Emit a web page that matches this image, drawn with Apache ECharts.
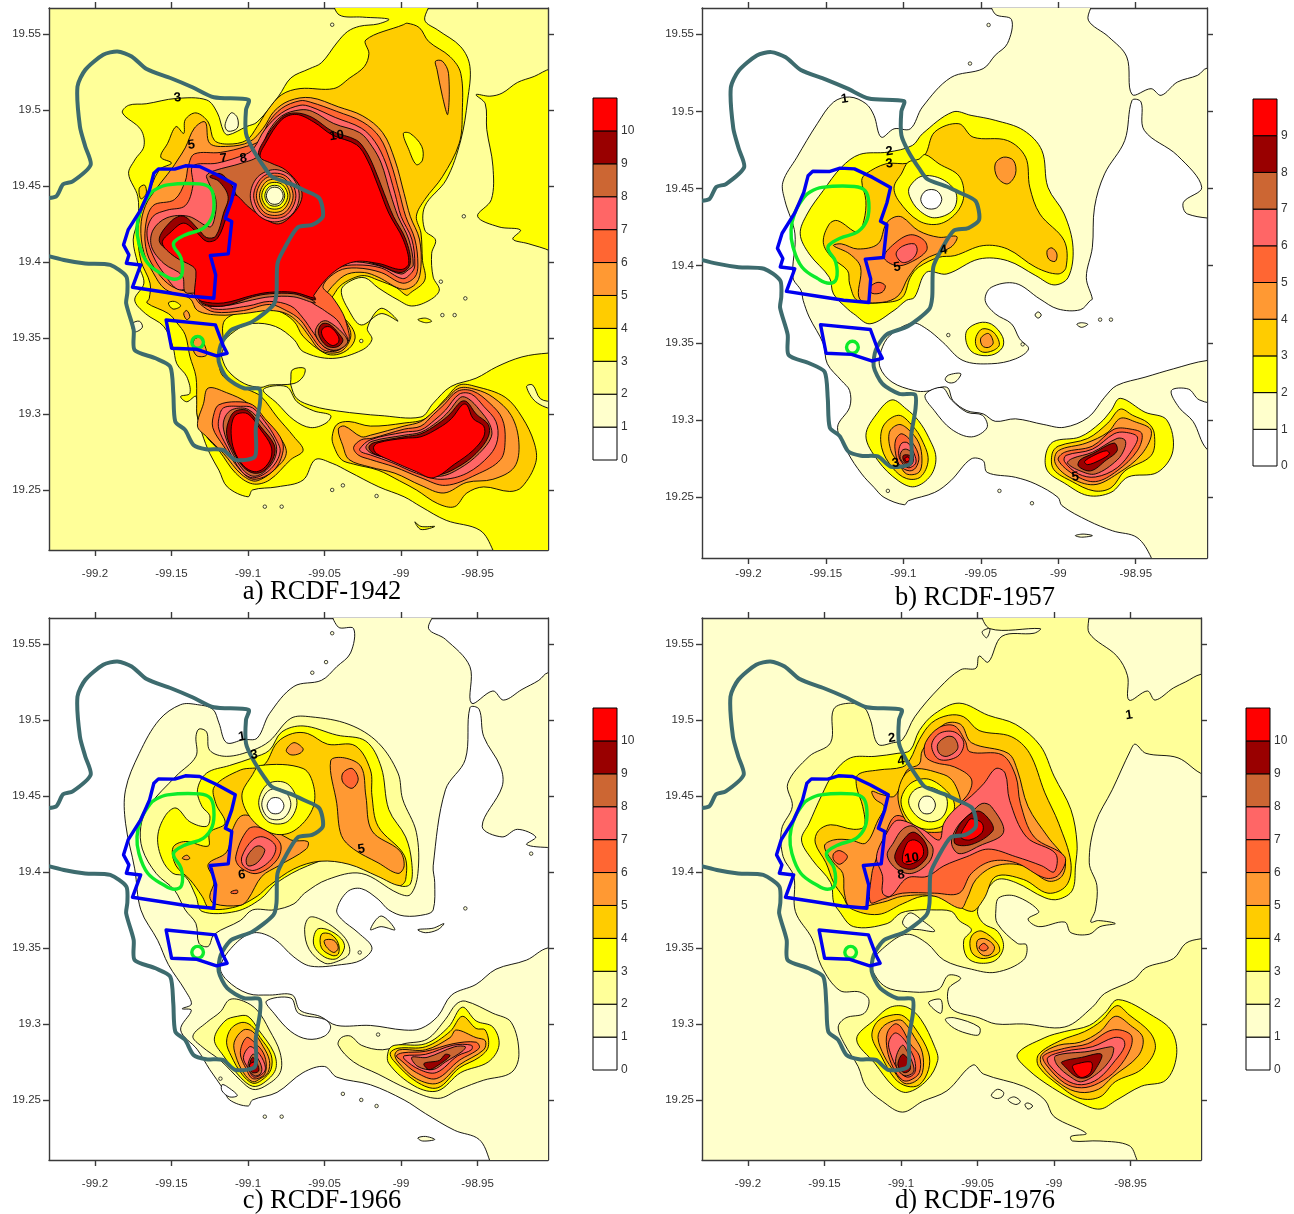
<!DOCTYPE html>
<html><head><meta charset="utf-8">
<style>html,body{margin:0;padding:0;background:#fff}#c{width:1294px;height:1214px}</style>
<script src="https://cdn.jsdelivr.net/npm/echarts@6/dist/echarts.min.js"></script>
</head><body><div id="c"></div>
<script>
// ---- axis ticks and legend values
const lonTicks=[-99.2,-99.15,-99.1,-99.05,-99,-98.95];
const latTicks=[19.25,19.3,19.35,19.4,19.45,19.5,19.55];
const legendTicks11=[0,1,2,3,4,5,6,7,8,9,10];
const legendTicks10=[0,1,2,3,4,5,6,7,8,9];
const bandColors=['#FFFFFF','#FFFFCC','#FFFF99','#FFFF00','#FFCC00','#FF9933','#FF6633','#FF6666','#CC6633','#990000','#FF0000'];
const bandColorsB=['#FFFFFF','#FFFFCC','#FFFF00','#FFCC00','#FF9933','#FF6633','#FF6666','#CC6633','#990000','#FF0000'];
const captions=['a) RCDF-1942','b) RCDF-1957','c) RCDF-1966','d) RCDF-1976'];

// ---- shared geography (lon,lat pairs)
const tealBoundary=[-99.235,19.442,-99.2254,19.443,-99.2208,19.451,-99.2145,19.4529,-99.2028,19.4638,-99.2063,19.4759,-99.2098,19.489,-99.2114,19.5153,-99.2063,19.5263,-99.1946,19.5362,-99.1853,19.5384,-99.176,19.5351,-99.1662,19.5268,-99.1503,19.5208,-99.1363,19.5149,-99.1223,19.5083,-99.0996,19.5066,-99.1013,19.5,-99.1013,19.4846,-99.0966,19.4737,-99.0896,19.4627,-99.0845,19.4561,-99.0721,19.4513,-99.0639,19.4474,-99.0534,19.4419,-99.0511,19.4298,-99.0581,19.4243,-99.0674,19.4228,-99.0756,19.4101,-99.0807,19.3991,-99.0814,19.3794,-99.0834,19.3717,-99.0971,19.3607,-99.1109,19.3553,-99.1178,19.3454,-99.1191,19.3344,-99.1136,19.3235,-99.1026,19.3169,-99.0925,19.3164,-99.0922,19.307,-99.0949,19.2906,-99.0955,19.2719,-99.1081,19.2697,-99.1164,19.2763,-99.1274,19.2768,-99.1356,19.2796,-99.1411,19.2895,-99.1475,19.295,-99.1488,19.3136,-99.1508,19.3311,-99.1604,19.3366,-99.1741,19.3421,-99.1747,19.3553,-99.1796,19.3728,-99.1788,19.38,-99.1795,19.3904,-99.19,19.398,-99.2063,19.399,-99.2203,19.4013,-99.235,19.405];
const blueDistrict=[-99.1585,19.4612,-99.1479,19.461,-99.1409,19.4632,-99.1316,19.4627,-99.1199,19.4572,-99.1083,19.4507,-99.1106,19.4408,-99.1148,19.4287,-99.1106,19.4265,-99.1129,19.4053,-99.1246,19.4042,-99.1211,19.3914,-99.1223,19.3761,-99.1386,19.3776,-99.1573,19.3805,-99.1755,19.3833,-99.1701,19.398,-99.1795,19.3991,-99.1778,19.4046,-99.1813,19.4112,-99.1783,19.421,-99.1701,19.4342,-99.1643,19.4474,-99.1615,19.4583];
const blueSouth=[-99.1535,19.3618,-99.1213,19.3586,-99.1164,19.3454,-99.1136,19.3399,-99.1205,19.3382,-99.1334,19.3425,-99.1499,19.3432];
const greenZone=[-99.1608,19.4474,-99.1526,19.4507,-99.1316,19.4513,-99.1246,19.4485,-99.1223,19.4408,-99.1234,19.4298,-99.1293,19.4221,-99.1409,19.4178,-99.148,19.4134,-99.1484,19.4101,-99.1437,19.4024,-99.1433,19.3914,-99.148,19.3886,-99.155,19.3914,-99.1655,19.3991,-99.1713,19.4123,-99.1725,19.4232,-99.1701,19.4342,-99.1643,19.4441];
const greenSouth=[-99.1329,19.351,-99.1302,19.3498,-99.1291,19.3471,-99.1302,19.3444,-99.1329,19.3433,-99.1356,19.3444,-99.1367,19.3471,-99.1356,19.3498];

// ---- panel a rings
const a3Main=[-99.043,19.572,-99.0405,19.5625,-99.025,19.561,-99.008,19.5596,-99.015,19.5565,-99.027,19.555,-99.035,19.5515,-99.042,19.544,-99.052,19.531,-99.06,19.527,-99.072,19.521,-99.08,19.509,-99.094,19.492,-99.101,19.489,-99.113,19.4835,-99.116,19.486,-99.12,19.498,-99.127,19.5065,-99.147,19.5075,-99.1665,19.504,-99.178,19.503,-99.182,19.498,-99.17,19.487,-99.168,19.476,-99.174,19.467,-99.178,19.458,-99.172,19.443,-99.172,19.4275,-99.175,19.4145,-99.172,19.399,-99.168,19.386,-99.174,19.375,-99.167,19.366,-99.155,19.3575,-99.149,19.344,-99.1465,19.333,-99.14,19.3245,-99.138,19.3135,-99.144,19.3115,-99.14,19.308,-99.134,19.3115,-99.133,19.298,-99.13,19.287,-99.125,19.274,-99.119,19.263,-99.1135,19.252,-99.1,19.2455,-99.097,19.25,-99.081,19.252,-99.064,19.2565,-99.056,19.27,-99.045,19.2675,-99.034,19.262,-99.0145,19.252,-98.998,19.2455,-98.987,19.239,-98.9705,19.23,-98.9485,19.2235,-98.94,19.2105,-98.935,19.195,-98.87,19.19,-98.87,19.342,-98.904,19.34,-98.921,19.3375,-98.9375,19.331,-98.951,19.3235,-98.9675,19.318,-98.979,19.307,-98.987,19.298,-99.0145,19.299,-99.0255,19.3,-99.042,19.302,-99.057,19.305,-99.068,19.31,-99.072,19.319,-99.072,19.3225,-99.071,19.329,-99.063,19.33,-99.064,19.3245,-99.07,19.32,-99.086,19.319,-99.0915,19.3175,-99.1025,19.32,-99.1135,19.329,-99.118,19.34,-99.119,19.344,-99.108,19.355,-99.097,19.3595,-99.082,19.3575,-99.07,19.349,-99.064,19.341,-99.045,19.3365,-99.0255,19.342,-99.019,19.349,-99.022,19.3565,-99.013,19.3695,-99.002,19.361,-99.013,19.366,-99.026,19.3585,-99.034,19.368,-99.039,19.3815,-99.032,19.388,-99.0235,19.3895,-99.015,19.383,-99.002,19.375,-98.993,19.371,-98.981,19.375,-98.975,19.3815,-98.979,19.39,-98.98,19.4055,-98.9775,19.4145,-98.9845,19.421,-98.9845,19.4365,-98.9705,19.454,-98.961,19.48,-98.9565,19.5065,-98.955,19.5285,-98.961,19.5415,-98.976,19.5525,-98.9845,19.559,-98.982,19.572];
const a3East=[-98.951,19.51,-98.942,19.509,-98.934,19.511,-98.924,19.518,-98.913,19.522,-98.902,19.527,-98.87,19.53,-98.87,19.39,-98.902,19.407,-98.917,19.412,-98.927,19.415,-98.922,19.421,-98.936,19.423,-98.95,19.43,-98.941,19.441,-98.94,19.463,-98.944,19.487,-98.945,19.504];
const aLagoon=[-99.046,19.299,-99.049,19.294,-99.059,19.291,-99.07,19.296,-99.081,19.307,-99.09,19.316,-99.075,19.318,-99.068,19.308,-99.057,19.302];
const aBump=[-99.115,19.49,-99.111,19.498,-99.107,19.495,-99.107,19.488,-99.113,19.486];
const aIslandPale=[-99.176,19.359,-99.171,19.361,-99.169,19.357,-99.174,19.354];
const aSEPale=[-98.918,19.318,-98.914,19.319,-98.909,19.31,-98.9,19.307,-98.9,19.303,-98.912,19.308];
const aIslandY1=[-98.991,19.229,-98.987,19.226,-98.978,19.226,-98.987,19.224];
const aIslandY2=[-98.989,19.362,-98.984,19.363,-98.98,19.361,-98.984,19.36];
const a4Main=[-98.996,19.557,-98.988,19.554,-98.982,19.545,-98.968,19.535,-98.961,19.524,-98.96,19.498,-98.962,19.478,-98.973,19.456,-98.9845,19.441,-98.99,19.43,-98.987,19.419,-98.986,19.401,-98.9845,19.388,-98.994,19.3795,-98.9965,19.378,-99.003,19.383,-99.015,19.388,-99.024,19.391,-99.032,19.389,-99.04,19.384,-99.046,19.376,-99.049,19.377,-99.042,19.368,-99.0325,19.3575,-99.03,19.35,-99.034,19.343,-99.042,19.339,-99.05,19.34,-99.064,19.351,-99.07,19.361,-99.081,19.368,-99.092,19.368,-99.108,19.366,-99.116,19.36,-99.116,19.343,-99.119,19.3355,-99.116,19.3245,-99.1,19.316,-99.0915,19.3115,-99.081,19.298,-99.07,19.285,-99.064,19.276,-99.072,19.27,-99.086,19.2565,-99.097,19.254,-99.108,19.261,-99.119,19.276,-99.127,19.285,-99.133,19.298,-99.1335,19.309,-99.134,19.3245,-99.138,19.338,-99.141,19.352,-99.1465,19.36,-99.152,19.366,-99.166,19.373,-99.1645,19.376,-99.164,19.386,-99.17,19.401,-99.172,19.419,-99.17,19.432,-99.1665,19.441,-99.158,19.4605,-99.15,19.465,-99.157,19.469,-99.1525,19.478,-99.147,19.489,-99.142,19.4845,-99.141,19.4935,-99.134,19.498,-99.126,19.492,-99.122,19.48,-99.113,19.4775,-99.101,19.48,-99.094,19.489,-99.087,19.5,-99.078,19.51,-99.066,19.514,-99.044,19.514,-99.0335,19.521,-99.024,19.5285,-99.021,19.537,-99.023,19.546,-98.9985,19.556];
const a4SE=[-99.045,19.285,-99.042,19.293,-99.034,19.295,-99.02,19.292,-98.998,19.294,-98.984,19.297,-98.971,19.31,-98.962,19.319,-98.951,19.318,-98.932,19.311,-98.921,19.298,-98.913,19.281,-98.912,19.268,-98.921,19.252,-98.929,19.249,-98.946,19.252,-98.957,19.248,-98.965,19.239,-98.976,19.241,-98.99,19.25,-99.001,19.256,-99.015,19.263,-99.031,19.267,-99.039,19.27,-99.044,19.279];
const a4Isle=[-99.17,19.4415,-99.171,19.4485,-99.1675,19.4505,-99.1665,19.445];
const aYellowIsle=[-98.9985,19.4845,-98.994,19.4845,-98.9865,19.476,-98.986,19.467,-98.99,19.464,-98.995,19.474];
const aYellowDiamond=[-99.152,19.373,-99.148,19.374,-99.144,19.371,-99.149,19.369];
const a5Sliver=[-98.9775,19.532,-98.973,19.532,-98.969,19.524,-98.9695,19.497,-98.973,19.509,-98.9765,19.5265];
const a5Patch=[-99.135,19.349,-99.131,19.35,-99.127,19.339,-99.133,19.338,-99.136,19.343];
const a5Diamond=[-99.142,19.366,-99.14,19.368,-99.138,19.364,-99.14,19.362];
const a5Main=[-99.128,19.492,-99.125,19.478,-99.113,19.476,-99.099,19.479,-99.09,19.488,-99.083,19.499,-99.073,19.506,-99.059,19.508,-99.041,19.502,-99.025,19.496,-99.012,19.485,-99.004,19.467,-98.998,19.445,-98.994,19.43,-98.988,19.415,-98.987,19.397,-98.99,19.386,-98.999,19.382,-99.015,19.39,-99.024,19.393,-99.035,19.392,-99.043,19.386,-99.05,19.377,-99.048,19.377,-99.041,19.368,-99.034,19.357,-99.033,19.35,-99.038,19.342,-99.045,19.34,-99.053,19.342,-99.06,19.351,-99.067,19.36,-99.075,19.366,-99.086,19.368,-99.103,19.366,-99.119,19.365,-99.133,19.368,-99.138,19.376,-99.154,19.382,-99.162,19.393,-99.168,19.406,-99.17,19.423,-99.167,19.437,-99.16,19.448,-99.15,19.461,-99.146,19.467,-99.141,19.475,-99.135,19.488];
const a5SW=[-99.126,19.317,-99.114,19.314,-99.1,19.307,-99.09,19.296,-99.081,19.287,-99.075,19.276,-99.078,19.268,-99.094,19.256,-99.104,19.26,-99.116,19.274,-99.127,19.285,-99.133,19.292,-99.129,19.307];
const a5SE=[-99.041,19.29,-99.037,19.292,-99.026,19.285,-99.02,19.286,-98.998,19.292,-98.987,19.295,-98.979,19.3015,-98.971,19.309,-98.962,19.317,-98.951,19.316,-98.94,19.311,-98.928,19.299,-98.923,19.281,-98.926,19.265,-98.94,19.257,-98.957,19.255,-98.972,19.248,-98.987,19.253,-99.004,19.261,-99.02,19.265,-99.034,19.27,-99.038,19.279];
const a6Main=[-99.135,19.471,-99.118,19.472,-99.101,19.476,-99.092,19.48,-99.087,19.491,-99.078,19.501,-99.066,19.506,-99.059,19.505,-99.042,19.499,-99.025,19.492,-99.014,19.482,-99.007,19.466,-99.001,19.445,-98.997,19.43,-98.991,19.415,-98.989,19.398,-98.991,19.39,-98.999,19.386,-99.013,19.393,-99.029,19.396,-99.041,19.394,-99.051,19.384,-99.045,19.377,-99.038,19.366,-99.035,19.357,-99.034,19.349,-99.039,19.343,-99.045,19.341,-99.052,19.343,-99.059,19.352,-99.066,19.362,-99.075,19.368,-99.086,19.372,-99.103,19.368,-99.122,19.367,-99.131,19.372,-99.137,19.379,-99.15,19.384,-99.159,19.393,-99.166,19.406,-99.167,19.423,-99.162,19.437,-99.148,19.441,-99.141,19.453,-99.139,19.463];
const a6SW=[-99.119,19.306,-99.108,19.308,-99.097,19.306,-99.089,19.297,-99.079,19.285,-99.077,19.276,-99.083,19.263,-99.096,19.257,-99.105,19.263,-99.116,19.279,-99.123,19.291,-99.122,19.301];
const a6SE=[-99.031,19.278,-99.026,19.283,-99.019,19.284,-98.998,19.29,-98.987,19.292,-98.979,19.2995,-98.972,19.306,-98.963,19.315,-98.953,19.315,-98.942,19.307,-98.934,19.297,-98.932,19.283,-98.935,19.27,-98.951,19.26,-98.971,19.253,-98.987,19.258,-99.004,19.265,-99.02,19.27,-99.028,19.273];
const a7Main=[-99.136,19.463,-99.12,19.465,-99.101,19.471,-99.096,19.475,-99.089,19.487,-99.078,19.498,-99.066,19.503,-99.059,19.502,-99.043,19.495,-99.026,19.488,-99.017,19.479,-99.01,19.465,-99.004,19.445,-99,19.43,-98.993,19.415,-98.991,19.398,-98.993,19.393,-98.999,19.389,-99.013,19.396,-99.029,19.398,-99.041,19.396,-99.052,19.386,-99.06,19.376,-99.05,19.368,-99.042,19.362,-99.037,19.354,-99.035,19.348,-99.042,19.342,-99.05,19.344,-99.057,19.353,-99.064,19.363,-99.072,19.371,-99.086,19.374,-99.1,19.371,-99.122,19.369,-99.13,19.375,-99.135,19.382,-99.146,19.382,-99.154,19.391,-99.162,19.404,-99.166,19.419,-99.162,19.43,-99.153,19.434,-99.141,19.437,-99.136,19.45];
const a7SW=[-99.116,19.304,-99.105,19.305,-99.097,19.304,-99.089,19.295,-99.082,19.284,-99.079,19.275,-99.085,19.264,-99.096,19.258,-99.104,19.262,-99.114,19.279,-99.119,19.29,-99.119,19.297];
const a7SE=[-99.027,19.277,-99.02,19.283,-98.998,19.288,-98.987,19.2895,-98.978,19.296,-98.971,19.3025,-98.962,19.313,-98.954,19.313,-98.946,19.305,-98.938,19.295,-98.937,19.283,-98.942,19.273,-98.957,19.261,-98.974,19.257,-98.99,19.261,-99.006,19.268,-99.02,19.273,-99.026,19.275];
const a8Main=[-99.122,19.46,-99.104,19.465,-99.093,19.47,-99.087,19.485,-99.078,19.496,-99.066,19.5,-99.058,19.499,-99.044,19.491,-99.027,19.485,-99.019,19.476,-99.013,19.465,-99.007,19.445,-99.002,19.43,-98.995,19.415,-98.992,19.398,-98.995,19.395,-99,19.392,-99.013,19.397,-99.029,19.4,-99.042,19.398,-99.054,19.387,-99.062,19.379,-99.056,19.373,-99.07,19.377,-99.086,19.377,-99.097,19.375,-99.116,19.371,-99.13,19.372,-99.134,19.379,-99.141,19.38,-99.143,19.391,-99.155,19.399,-99.163,19.41,-99.162,19.421,-99.153,19.429,-99.139,19.43,-99.125,19.423,-99.122,19.428,-99.121,19.441,-99.126,19.453,-99.127,19.457];
const a8Lobe=[-99.053,19.36,-99.048,19.361,-99.038,19.353,-99.035,19.347,-99.042,19.342,-99.05,19.344,-99.056,19.353];
const a8SW=[-99.11,19.303,-99.1,19.303,-99.09,19.293,-99.082,19.281,-99.082,19.272,-99.088,19.263,-99.096,19.259,-99.103,19.263,-99.111,19.276,-99.116,19.29,-99.115,19.298];
const a8SE=[-99.023,19.278,-99.019,19.282,-98.998,19.286,-98.987,19.288,-98.976,19.295,-98.969,19.3015,-98.961,19.311,-98.956,19.31,-98.949,19.303,-98.942,19.293,-98.941,19.285,-98.949,19.274,-98.962,19.264,-98.975,19.259,-98.99,19.263,-99.006,19.27,-99.019,19.274];
const a9Main=[-99.125,19.456,-99.118,19.458,-99.111,19.451,-99.107,19.443,-99.1,19.435,-99.09,19.427,-99.08,19.423,-99.07,19.43,-99.064,19.441,-99.065,19.451,-99.075,19.462,-99.085,19.467,-99.093,19.47,-99.09,19.479,-99.078,19.495,-99.069,19.498,-99.058,19.495,-99.045,19.486,-99.029,19.48,-99.023,19.473,-99.018,19.463,-99.011,19.445,-99.005,19.43,-98.997,19.415,-98.994,19.399,-99,19.393,-99.015,19.398,-99.032,19.402,-99.047,19.395,-99.058,19.38,-99.056,19.375,-99.07,19.379,-99.086,19.379,-99.097,19.377,-99.116,19.371,-99.13,19.373,-99.131,19.38,-99.131,19.393,-99.135,19.398,-99.148,19.405,-99.158,19.414,-99.15,19.427,-99.142,19.43,-99.132,19.421,-99.127,19.416,-99.121,19.417,-99.116,19.432,-99.113,19.443,-99.119,19.453];
const a9Lobe=[-99.052,19.359,-99.047,19.359,-99.04,19.352,-99.038,19.348,-99.042,19.344,-99.049,19.345,-99.054,19.353];
const a9SW=[-99.108,19.302,-99.1,19.302,-99.092,19.292,-99.083,19.28,-99.083,19.272,-99.089,19.263,-99.096,19.261,-99.103,19.265,-99.11,19.276,-99.114,19.287,-99.112,19.297];
const a9SE=[-99.021,19.278,-99.018,19.281,-98.998,19.285,-98.987,19.287,-98.976,19.2935,-98.968,19.3,-98.961,19.308,-98.957,19.308,-98.951,19.3,-98.943,19.293,-98.943,19.285,-98.951,19.274,-98.963,19.265,-98.976,19.26,-98.99,19.264,-99.006,19.27,-99.018,19.274];
const a10Main=[-99.078,19.4935,-99.0685,19.497,-99.057,19.492,-99.045,19.4835,-99.029,19.477,-99.022,19.467,-99.015,19.45,-99.008,19.432,-98.9985,19.4145,-98.995,19.399,-99,19.395,-99.015,19.399,-99.031,19.4,-99.045,19.3925,-99.057,19.378,-99.056,19.376,-99.07,19.38,-99.086,19.38,-99.097,19.378,-99.116,19.373,-99.13,19.374,-99.134,19.377,-99.135,19.379,-99.134,19.3935,-99.136,19.397,-99.148,19.4035,-99.156,19.4125,-99.15,19.42,-99.142,19.4255,-99.134,19.42,-99.127,19.4135,-99.12,19.4155,-99.114,19.43,-99.1105,19.441,-99.108,19.444,-99.1,19.4365,-99.09,19.429,-99.08,19.425,-99.071,19.431,-99.065,19.441,-99.066,19.4495,-99.0755,19.4605,-99.085,19.465,-99.092,19.469,-99.0885,19.478];
const a10Lobe=[-99.05,19.357,-99.046,19.357,-99.041,19.351,-99.041,19.347,-99.045,19.345,-99.05,19.349,-99.052,19.354];
const a10SW=[-99.107,19.3,-99.1,19.3,-99.092,19.29,-99.085,19.279,-99.085,19.271,-99.09,19.264,-99.096,19.262,-99.103,19.266,-99.109,19.276,-99.111,19.287,-99.11,19.296];
const a10SE=[-99.018,19.278,-99.015,19.281,-98.998,19.284,-98.987,19.285,-98.975,19.291,-98.967,19.297,-98.96,19.306,-98.957,19.306,-98.953,19.297,-98.946,19.292,-98.946,19.285,-98.953,19.276,-98.965,19.267,-98.979,19.258,-98.99,19.262,-99.006,19.269,-99.016,19.274];
const aHole7=[-99.0825,19.4607,-99.0712,19.4557,-99.0665,19.4435,-99.0712,19.4313,-99.0825,19.4263,-99.0938,19.4313,-99.0985,19.4435,-99.0938,19.4557];
const aHole6=[-99.0687,19.4435,-99.0756,19.4567,-99.0894,19.4567,-99.0963,19.4435,-99.0894,19.4303,-99.0756,19.4303];
const aHole5=[-99.0705,19.4435,-99.0765,19.455,-99.0885,19.455,-99.0945,19.4435,-99.0885,19.432,-99.0765,19.432];
const aHole4=[-99.0725,19.4435,-99.0775,19.4532,-99.0875,19.4532,-99.0925,19.4435,-99.0875,19.4338,-99.0775,19.4338];
const aHole3=[-99.074,19.4435,-99.0783,19.4513,-99.0868,19.4513,-99.091,19.4435,-99.0868,19.4357,-99.0783,19.4357];
const aHole2=[-99.076,19.4435,-99.0793,19.4496,-99.0858,19.4496,-99.089,19.4435,-99.0858,19.4374,-99.0793,19.4374];
const aHole1=[-99.077,19.4435,-99.0798,19.4485,-99.0853,19.4485,-99.088,19.4435,-99.0853,19.4385,-99.0798,19.4385];
const aSpecks=[[-99.045,19.556],[-98.959,19.43],[-98.974,19.387],[-98.958,19.376],[-98.973,19.365],[-98.965,19.365],[-99.026,19.348],[-99.038,19.253],[-99.016,19.246],[-99.089,19.239],[-99.078,19.239],[-99.045,19.25]];
const aLabels=[[-99.146,19.508,'3'],[-99.137,19.477,'5'],[-99.116,19.468,'7'],[-99.103,19.468,'8'],[-99.042,19.483,'10']];

// ---- panel b rings
const b1Main=[-99.0427,19.572,-99.0407,19.563,-99.0302,19.5595,-99.0328,19.544,-99.0407,19.5364,-99.0485,19.5277,-99.0694,19.5219,-99.0877,19.5028,-99.0955,19.4887,-99.106,19.4887,-99.1143,19.4833,-99.119,19.4974,-99.1242,19.505,-99.1347,19.5093,-99.1451,19.506,-99.1556,19.492,-99.1687,19.4703,-99.1778,19.4541,-99.1765,19.4422,-99.17,19.4206,-99.1713,19.3924,-99.166,19.3838,-99.1647,19.3775,-99.1608,19.3667,-99.1517,19.3494,-99.1491,19.3364,-99.14,19.3255,-99.1347,19.319,-99.1347,19.3082,-99.1425,19.2952,-99.136,19.279,-99.1269,19.265,-99.119,19.2563,-99.1125,19.2498,-99.0994,19.245,-99.0968,19.2476,-99.0798,19.253,-99.0694,19.2606,-99.0563,19.2747,-99.0485,19.2736,-99.0459,19.266,-99.0276,19.2628,-99.0145,19.2584,-99.0002,19.2498,-98.9976,19.2444,-98.9806,19.2346,-98.9649,19.2281,-98.9492,19.2238,-98.94,19.2108,-98.935,19.195,-98.87,19.19,-98.87,19.34,-98.904,19.3385,-98.9257,19.3331,-98.944,19.3277,-98.9623,19.3223,-98.9701,19.3147,-98.9806,19.3017,-98.9962,19.2952,-99.0093,19.297,-99.0276,19.3007,-99.0407,19.2991,-99.0485,19.3039,-99.059,19.306,-99.068,19.3126,-99.072,19.3212,-99.085,19.3186,-99.0929,19.319,-99.1073,19.3245,-99.1151,19.3342,-99.1143,19.345,-99.1086,19.3548,-99.0942,19.3628,-99.0851,19.3591,-99.0746,19.3504,-99.0615,19.3385,-99.0433,19.3364,-99.0276,19.3396,-99.0192,19.3461,-99.025,19.3526,-99.0302,19.3623,-99.0407,19.3688,-99.0472,19.3775,-99.0433,19.3859,-99.0276,19.3885,-99.0119,19.3784,-99.0002,19.3719,-98.9858,19.3714,-98.9792,19.3775,-98.978,19.3784,-98.9819,19.3924,-98.978,19.4119,-98.9766,19.4379,-98.9701,19.4595,-98.9571,19.4811,-98.9524,19.5071,-98.9466,19.5061,-98.9445,19.4877,-98.9231,19.4714,-98.9074,19.4508,-98.9192,19.4411,-98.9166,19.4335,-98.89,19.43,-98.87,19.43,-98.87,19.53,-98.904,19.528,-98.91,19.5234,-98.9231,19.519,-98.9336,19.5104,-98.9401,19.5147,-98.9524,19.511,-98.9558,19.5353,-98.9675,19.5483,-98.9806,19.5591,-98.9792,19.572];
const bLagoon=[-99.086,19.316,-99.075,19.321,-99.069,19.313,-99.059,19.305,-99.049,19.303,-99.046,19.295,-99.056,19.289,-99.069,19.294,-99.08,19.306];
const bWhiteEast=[-98.927,19.319,-98.916,19.32,-98.909,19.313,-98.895,19.31,-98.885,19.31,-98.885,19.27,-98.904,19.281,-98.913,19.299,-98.922,19.308];
const bIsle1=[-99.073,19.326,-99.071,19.329,-99.063,19.33,-99.066,19.325,-99.07,19.324];
const bIsle2=[-98.989,19.225,-98.984,19.226,-98.978,19.225,-98.985,19.224];
const bIsle3=[-99.015,19.368,-99.013,19.37,-99.011,19.368,-99.013,19.366];
const bIsle4=[-98.988,19.362,-98.985,19.363,-98.981,19.362,-98.985,19.36];
const b2Main=[-99.0681,19.4996,-99.0877,19.4855,-99.0942,19.4779,-99.11,19.4736,-99.1282,19.4721,-99.14,19.4638,-99.1517,19.4487,-99.1621,19.4335,-99.1666,19.4206,-99.1608,19.4076,-99.1478,19.3924,-99.1451,19.3816,-99.136,19.3719,-99.1321,19.3688,-99.1216,19.3623,-99.106,19.371,-99.0981,19.3775,-99.0929,19.3794,-99.0851,19.3957,-99.072,19.3946,-99.0511,19.4043,-99.0328,19.4032,-99.0145,19.3935,-99.0028,19.3875,-98.9936,19.3924,-98.9905,19.4119,-98.9962,19.4335,-99.0067,19.4508,-99.0106,19.4747,-99.0224,19.4877,-99.0407,19.4942,-99.0563,19.4974];
const b2SW=[-99.1073,19.313,-99.1164,19.305,-99.1242,19.2898,-99.1164,19.2736,-99.1033,19.2606,-99.0929,19.2567,-99.0824,19.2639,-99.079,19.2758,-99.0837,19.2887,-99.0903,19.2996,-99.0981,19.3071];
const b2SE=[-98.96,19.314,-98.966,19.306,-98.973,19.298,-98.986,19.289,-99.003,19.286,-99.008,19.278,-99.007,19.267,-98.996,19.259,-98.981,19.251,-98.966,19.253,-98.955,19.263,-98.936,19.266,-98.926,19.28,-98.93,19.3,-98.944,19.305];
const b2Lobe=[-99.059,19.358,-99.051,19.363,-99.043,19.362,-99.036,19.354,-99.036,19.347,-99.043,19.342,-99.054,19.343,-99.059,19.349];
const b3Main=[-99.0642,19.492,-99.0798,19.4866,-99.0864,19.4714,-99.0968,19.4664,-99.1112,19.466,-99.1242,19.4595,-99.1269,19.4552,-99.1242,19.4422,-99.1255,19.4292,-99.1295,19.4216,-99.1425,19.4292,-99.1478,19.427,-99.1517,19.4151,-99.1464,19.4054,-99.136,19.3967,-99.1347,19.3881,-99.1295,19.3773,-99.1112,19.3762,-99.1007,19.3794,-99.0955,19.3924,-99.0903,19.3989,-99.0772,19.4054,-99.0668,19.4065,-99.0485,19.413,-99.0328,19.4108,-99.0145,19.3989,-99.0002,19.3946,-98.995,19.3989,-98.9962,19.4162,-99.0119,19.4335,-99.0184,19.4508,-99.0211,19.4703,-99.0328,19.4811,-99.055,19.4833];
const b3SW=[-99.103,19.303,-99.113,19.296,-99.114,19.282,-99.107,19.269,-99.098,19.262,-99.089,19.263,-99.084,19.274,-99.088,19.287,-99.094,19.296];
const b3SE=[-98.96,19.307,-98.968,19.298,-98.981,19.288,-99,19.283,-99.004,19.278,-99.003,19.268,-98.991,19.26,-98.977,19.254,-98.966,19.256,-98.957,19.267,-98.94,19.277,-98.938,19.291,-98.942,19.298,-98.952,19.303];
const b3Lobe=[-99.053,19.354,-99.049,19.359,-99.042,19.357,-99.038,19.349,-99.042,19.345,-99.049,19.344,-99.053,19.348];
const b4Main=[-99.106,19.4314,-99.1007,19.4314,-99.0903,19.4227,-99.0772,19.4184,-99.0655,19.4188,-99.0694,19.4119,-99.0877,19.4032,-99.0968,19.3924,-99.1033,19.3805,-99.1138,19.3762,-99.1282,19.3784,-99.1276,19.3989,-99.1347,19.4076,-99.1451,19.413,-99.14,19.4141,-99.1295,19.4108,-99.1164,19.4141,-99.1112,19.4271];
const b4Spot1=[-99.0407,19.466,-99.0354,19.4703,-99.0289,19.4681,-99.0276,19.4595,-99.0328,19.453,-99.0394,19.4573];
const b4Spot2=[-99.0072,19.4097,-99.0041,19.4115,-99.0009,19.4076,-99.002,19.4028,-99.0062,19.4043];
const b4SW=[-99.103,19.297,-99.109,19.292,-99.108,19.28,-99.103,19.272,-99.098,19.265,-99.09,19.266,-99.088,19.274,-99.09,19.285,-99.097,19.294];
const b4SE=[-98.96,19.301,-98.968,19.292,-98.982,19.285,-99,19.28,-99.002,19.272,-98.993,19.263,-98.977,19.258,-98.962,19.265,-98.946,19.278,-98.94,19.293,-98.951,19.299];
const b4Lobe=[-99.05,19.353,-99.045,19.356,-99.042,19.35,-99.045,19.347,-99.049,19.348];
const bHoleY=[-99.097,19.467,-99.101,19.46,-99.106,19.451,-99.103,19.442,-99.09,19.429,-99.077,19.427,-99.066,19.434,-99.061,19.445,-99.064,19.458,-99.077,19.466,-99.086,19.472,-99.09,19.469];
const bHoleC=[-99.096,19.451,-99.088,19.458,-99.075,19.456,-99.066,19.447,-99.068,19.436,-99.08,19.431,-99.09,19.436,-99.096,19.445];
const bHoleW=[-99.0752,19.443,-99.0786,19.4486,-99.0854,19.4486,-99.0888,19.443,-99.0854,19.4374,-99.0786,19.4374];
const b5Main=[-99.1047,19.4,-99.1125,19.4054,-99.106,19.4141,-99.0955,19.42,-99.0864,19.4162,-99.0851,19.4097,-99.0955,19.4021];
const b5Small=[-99.1216,19.3859,-99.1164,19.3892,-99.1117,19.387,-99.1138,19.3827,-99.1203,19.3821];
const b5SW=[-99.101,19.291,-99.105,19.287,-99.105,19.278,-99.102,19.27,-99.096,19.267,-99.092,19.269,-99.09,19.276,-99.094,19.285];
const b5SE=[-98.964,19.294,-98.978,19.283,-98.996,19.279,-99,19.274,-98.989,19.264,-98.976,19.26,-98.962,19.267,-98.949,19.28,-98.946,19.291,-98.953,19.294];
const b6Main=[-99.1047,19.4076,-99.1007,19.4125,-99.0929,19.4141,-99.0911,19.4097,-99.0942,19.4043,-99.1007,19.4021];
const b6SW=[-99.101,19.285,-99.103,19.28,-99.102,19.274,-99.097,19.269,-99.092,19.272,-99.093,19.278,-99.097,19.285];
const b6SE=[-98.964,19.291,-98.978,19.281,-98.995,19.277,-98.996,19.273,-98.987,19.265,-98.976,19.263,-98.962,19.269,-98.952,19.281,-98.949,19.289,-98.957,19.292];
const b7SW=[-99.101,19.28,-99.102,19.275,-99.097,19.27,-99.094,19.272,-99.094,19.278,-99.098,19.281];
const b7SE=[-98.962,19.288,-98.978,19.279,-98.991,19.275,-98.994,19.272,-98.986,19.267,-98.976,19.265,-98.962,19.274,-98.957,19.282,-98.957,19.287];
const b8SW=[-99.1,19.277,-99.1,19.274,-99.097,19.271,-99.094,19.274,-99.096,19.277];
const b8SE=[-98.964,19.285,-98.978,19.278,-98.986,19.274,-98.987,19.27,-98.979,19.267,-98.969,19.274,-98.962,19.28];
const b9SW=[-99.099,19.275,-99.098,19.273,-99.096,19.274,-99.097,19.276];
const b9SE=[-98.969,19.28,-98.977,19.277,-98.983,19.273,-98.981,19.271,-98.973,19.274,-98.967,19.278];
const bSpecks=[[-99.045,19.556],[-99.057,19.531],[-98.973,19.365],[-98.966,19.365],[-99.071,19.355],[-99.11,19.254],[-99.038,19.254],[-99.017,19.246],[-99.023,19.349]];
const bLabels=[[-99.138,19.508,'1'],[-99.109,19.474,'2'],[-99.109,19.466,'3'],[-99.104,19.399,'5'],[-99.074,19.41,'4'],[-98.989,19.263,'5'],[-99.105,19.272,'3']];

// ---- panel c rings
const c1Main=[-99.044,19.572,-99.041,19.561,-99.031,19.56,-99.033,19.544,-99.042,19.535,-99.052,19.526,-99.07,19.522,-99.086,19.504,-99.094,19.488,-99.103,19.487,-99.114,19.485,-99.119,19.498,-99.123,19.507,-99.133,19.51,-99.144,19.51,-99.158,19.5,-99.171,19.478,-99.18,19.454,-99.18,19.432,-99.174,19.402,-99.17,19.375,-99.159,19.355,-99.152,19.339,-99.141,19.322,-99.137,19.313,-99.143,19.31,-99.137,19.309,-99.144,19.296,-99.133,19.283,-99.125,19.27,-99.116,19.257,-99.112,19.25,-99.1,19.246,-99.097,19.25,-99.081,19.255,-99.064,19.268,-99.05,19.272,-99.042,19.265,-99.02,19.26,-98.998,19.25,-98.984,19.241,-98.965,19.23,-98.949,19.224,-98.942,19.21,-98.938,19.195,-98.87,19.19,-98.87,19.352,-98.904,19.35,-98.918,19.342,-98.938,19.336,-98.951,19.326,-98.967,19.319,-98.976,19.305,-98.987,19.297,-98.998,19.296,-99.02,19.299,-99.042,19.299,-99.053,19.305,-99.066,19.309,-99.071,19.319,-99.086,19.319,-99.1,19.32,-99.114,19.329,-99.118,19.338,-99.108,19.353,-99.096,19.36,-99.083,19.356,-99.07,19.344,-99.059,19.338,-99.039,19.339,-99.026,19.342,-99.019,19.35,-99.028,19.36,-99.039,19.369,-99.042,19.375,-99.035,19.387,-99.026,19.389,-99.015,19.382,-99.008,19.375,-98.998,19.371,-98.984,19.372,-98.979,19.375,-98.978,19.393,-98.979,19.404,-98.971,19.454,-98.958,19.474,-98.955,19.508,-98.949,19.507,-98.946,19.489,-98.935,19.469,-98.934,19.456,-98.947,19.43,-98.934,19.423,-98.924,19.428,-98.912,19.423,-98.918,19.418,-98.902,19.416,-98.87,19.416,-98.87,19.535,-98.904,19.531,-98.91,19.526,-98.921,19.52,-98.933,19.513,-98.94,19.519,-98.954,19.511,-98.955,19.535,-98.971,19.553,-98.982,19.56,-98.979,19.572];
const cLagoon=[-99.088,19.315,-99.072,19.317,-99.067,19.307,-99.05,19.303,-99.046,19.298,-99.05,19.292,-99.061,19.29,-99.072,19.295,-99.083,19.307];
const cWhiteSmall=[-99.117,19.26,-99.114,19.259,-99.107,19.253,-99.112,19.252,-99.117,19.256];
const cIsle1=[-99.02,19.362,-99.013,19.371,-99.004,19.362,-99.013,19.364];
const cIsle2=[-98.989,19.362,-98.979,19.363,-98.972,19.366,-98.976,19.362,-98.984,19.36];
const cIsle3=[-98.989,19.225,-98.984,19.226,-98.978,19.224,-98.986,19.223];
const c2Main=[-99.132,19.494,-99.127,19.492,-99.125,19.48,-99.114,19.476,-99.097,19.48,-99.086,19.486,-99.072,19.501,-99.059,19.502,-99.034,19.497,-99.015,19.485,-99.002,19.465,-98.999,19.448,-98.99,19.426,-98.989,19.399,-98.994,19.385,-99.002,19.386,-99.026,19.399,-99.048,19.395,-99.063,19.386,-99.07,19.379,-99.083,19.375,-99.097,19.375,-99.105,19.368,-99.122,19.359,-99.126,19.351,-99.132,19.353,-99.134,19.366,-99.141,19.375,-99.148,19.388,-99.16,19.399,-99.169,19.415,-99.17,19.43,-99.165,19.443,-99.147,19.463,-99.134,19.476,-99.134,19.489];
const c2Lobe=[-99.06,19.37,-99.053,19.369,-99.042,19.362,-99.035,19.354,-99.034,19.346,-99.042,19.341,-99.05,19.34,-99.06,19.349,-99.063,19.362];
const c2SW=[-99.112,19.316,-99.103,19.315,-99.094,19.309,-99.086,19.296,-99.079,19.281,-99.079,19.268,-99.089,19.259,-99.097,19.257,-99.105,19.263,-99.118,19.276,-99.13,19.285,-99.136,19.292,-99.127,19.301,-99.118,19.308];
const c2SE=[-99.039,19.291,-99.033,19.292,-99.026,19.286,-99.012,19.283,-98.998,19.287,-98.983,19.29,-98.971,19.303,-98.964,19.313,-98.958,19.315,-98.94,19.307,-98.928,19.301,-98.923,19.28,-98.928,19.268,-98.946,19.263,-98.962,19.257,-98.976,19.251,-98.995,19.257,-99.015,19.267,-99.031,19.275,-99.041,19.286];
const c3Main=[-99.064,19.496,-99.078,19.492,-99.086,19.48,-99.097,19.475,-99.112,19.47,-99.127,19.465,-99.133,19.454,-99.13,19.443,-99.125,19.437,-99.127,19.43,-99.138,19.433,-99.147,19.442,-99.154,19.437,-99.159,19.423,-99.156,19.408,-99.149,19.399,-99.141,19.397,-99.134,19.384,-99.13,19.374,-99.108,19.374,-99.092,19.382,-99.081,19.393,-99.061,19.404,-99.039,19.41,-99.02,19.404,-99.001,19.391,-98.994,19.392,-98.993,19.406,-98.997,19.423,-99.008,19.441,-99.013,19.469,-99.023,19.486,-99.042,19.49];
const c3Lobe=[-99.055,19.362,-99.048,19.362,-99.039,19.356,-99.037,19.35,-99.042,19.343,-99.05,19.344,-99.057,19.352];
const c3SW=[-99.107,19.305,-99.1,19.305,-99.093,19.296,-99.083,19.281,-99.082,19.27,-99.09,19.261,-99.097,19.259,-99.105,19.265,-99.116,19.279,-99.122,19.29,-99.115,19.302];
const c3SE=[-99.004,19.286,-98.984,19.287,-98.969,19.298,-98.96,19.311,-98.951,19.302,-98.94,19.298,-98.936,19.286,-98.943,19.275,-98.961,19.268,-98.976,19.256,-98.991,19.259,-99.008,19.274,-99.008,19.283];
const c4Main=[-99.071,19.491,-99.081,19.485,-99.09,19.47,-99.105,19.467,-99.122,19.456,-99.121,19.445,-99.115,19.432,-99.125,19.426,-99.126,19.417,-99.141,19.42,-99.149,19.416,-99.147,19.404,-99.138,19.395,-99.13,19.384,-99.125,19.376,-99.108,19.377,-99.094,19.384,-99.086,19.391,-99.07,19.402,-99.053,19.407,-99.034,19.405,-99.015,19.397,-99.001,19.391,-98.997,19.395,-98.998,19.411,-99.015,19.43,-99.019,19.45,-99.02,19.467,-99.03,19.483,-99.048,19.484,-99.061,19.491];
const c4Lobe=[-99.052,19.359,-99.046,19.359,-99.041,19.353,-99.041,19.346,-99.045,19.345,-99.052,19.35];
const c4SW=[-99.104,19.301,-99.098,19.299,-99.092,19.291,-99.085,19.28,-99.085,19.27,-99.091,19.263,-99.097,19.261,-99.104,19.267,-99.111,19.279,-99.114,19.288,-99.111,19.297];
const c4SE=[-99.002,19.284,-98.984,19.285,-98.968,19.295,-98.96,19.305,-98.951,19.297,-98.945,19.296,-98.943,19.285,-98.949,19.278,-98.962,19.271,-98.976,19.258,-98.99,19.262,-99.005,19.276,-99.007,19.281];
const c5Spot=[-99.075,19.48,-99.07,19.485,-99.064,19.481,-99.066,19.478,-99.072,19.477];
const c5East=[-99.046,19.473,-99.037,19.475,-99.026,19.469,-99.023,19.45,-99.019,19.427,-99.001,19.414,-98.998,19.404,-99.002,19.399,-99.015,19.406,-99.031,19.415,-99.039,19.424,-99.042,19.445];
const c5Center=[-99.104,19.437,-99.094,19.435,-99.072,19.421,-99.061,19.42,-99.062,19.415,-99.08,19.404,-99.091,19.397,-99.1,19.382,-99.105,19.378,-99.122,19.379,-99.125,19.384,-99.122,19.394,-99.126,19.405,-99.114,19.413,-99.11,19.428];
const c5Small=[-99.143,19.409,-99.14,19.411,-99.138,19.409,-99.14,19.408];
const c5Lobe=[-99.05,19.355,-99.044,19.355,-99.041,19.35,-99.044,19.347,-99.049,19.351];
const c5SW=[-99.103,19.296,-99.097,19.295,-99.09,19.285,-99.086,19.276,-99.087,19.268,-99.092,19.264,-99.097,19.262,-99.103,19.268,-99.108,19.279,-99.109,19.288];
const c5SE=[-99.001,19.283,-98.984,19.283,-98.968,19.291,-98.964,19.296,-98.951,19.291,-98.945,19.289,-98.946,19.283,-98.962,19.273,-98.976,19.261,-98.99,19.264,-99.002,19.275,-99.004,19.28];
const cHoleY=[-99.092,19.47,-99.064,19.468,-99.057,19.456,-99.058,19.441,-99.07,19.427,-99.083,19.425,-99.097,19.434,-99.104,19.45,-99.097,19.464];
const cHoleP=[-99.068,19.4455,-99.0743,19.458,-99.0868,19.458,-99.093,19.4455,-99.0868,19.433,-99.0743,19.433];
const cHoleC=[-99.072,19.4445,-99.0768,19.4536,-99.0863,19.4536,-99.091,19.4445,-99.0863,19.4354,-99.0768,19.4354];
const cHoleW=[-99.0765,19.4435,-99.0793,19.4483,-99.0848,19.4483,-99.0875,19.4435,-99.0848,19.4388,-99.0793,19.4388];
const c6Main=[-99.1,19.428,-99.092,19.429,-99.079,19.419,-99.081,19.408,-99.094,19.399,-99.105,19.403,-99.108,19.41];
const c6Spot=[-99.038,19.465,-99.032,19.468,-99.028,19.461,-99.032,19.455,-99.038,19.459];
const c6Small=[-99.111,19.387,-99.107,19.388,-99.107,19.386,-99.111,19.386];
const c6SW=[-99.101,19.291,-99.096,19.288,-99.09,19.281,-99.088,19.272,-99.09,19.266,-99.097,19.264,-99.101,19.27,-99.105,19.281];
const c6SE=[-98.999,19.281,-98.984,19.282,-98.966,19.287,-98.951,19.288,-98.949,19.284,-98.962,19.276,-98.977,19.264,-98.99,19.268,-99,19.276,-99.003,19.279];
const c7Main=[-99.097,19.421,-99.09,19.423,-99.082,19.417,-99.085,19.408,-99.096,19.401,-99.103,19.404,-99.104,19.41];
const c7SW=[-99.099,19.285,-99.095,19.283,-99.09,19.276,-99.089,19.269,-99.096,19.265,-99.1,19.271,-99.103,19.278];
const c7SE=[-98.998,19.279,-98.984,19.28,-98.966,19.286,-98.954,19.286,-98.954,19.283,-98.963,19.279,-98.977,19.268,-98.988,19.27,-98.998,19.277];
const c8Main=[-99.096,19.416,-99.092,19.417,-99.089,19.414,-99.094,19.406,-99.1,19.404,-99.101,19.409];
const c8SW=[-99.097,19.28,-99.094,19.278,-99.091,19.271,-99.092,19.267,-99.096,19.266,-99.1,19.272];
const c8SE=[-98.993,19.278,-98.983,19.278,-98.965,19.285,-98.958,19.285,-98.96,19.282,-98.971,19.275,-98.979,19.27,-98.989,19.272];
const c9SW=[-99.097,19.278,-99.094,19.274,-99.093,19.269,-99.097,19.268,-99.099,19.272];
const c9SE=[-98.985,19.274,-98.975,19.276,-98.971,19.28,-98.968,19.279,-98.977,19.272,-98.982,19.27];
const c10SW=[-99.096,19.275,-99.095,19.272,-99.098,19.271,-99.099,19.273];
const cSpecks=[[-99.045,19.557],[-99.049,19.538],[-99.058,19.531],[-98.958,19.376],[-98.915,19.412],[-99.038,19.254],[-99.026,19.25],[-99.016,19.246],[-99.089,19.239],[-99.078,19.239],[-99.118,19.264],[-99.015,19.293],[-99.027,19.347]];
const cLabels=[[-99.104,19.489,'1'],[-99.096,19.477,'3'],[-99.104,19.398,'6'],[-99.026,19.415,'5']];

// ---- panel d rings
const d2Main=[-99.046,19.572,-99.042,19.56,-99.009,19.56,-99.013,19.557,-99.034,19.555,-99.043,19.538,-99.049,19.542,-99.051,19.534,-99.061,19.533,-99.075,19.521,-99.091,19.502,-99.099,19.487,-99.105,19.485,-99.115,19.484,-99.12,19.5,-99.124,19.508,-99.133,19.511,-99.144,19.507,-99.146,19.485,-99.16,19.476,-99.174,19.458,-99.171,19.443,-99.178,19.428,-99.177,19.41,-99.17,19.397,-99.169,19.374,-99.158,19.356,-99.152,19.338,-99.14,19.322,-99.127,19.321,-99.121,19.316,-99.124,19.307,-99.136,19.304,-99.141,19.298,-99.137,19.287,-99.128,19.272,-99.123,19.259,-99.112,19.249,-99.099,19.242,-99.086,19.249,-99.07,19.256,-99.053,19.273,-99.046,19.267,-99.02,19.259,-99.006,19.25,-99,19.239,-98.979,19.228,-98.989,19.226,-98.988,19.223,-98.97,19.223,-98.951,19.22,-98.946,19.211,-98.94,19.195,-98.87,19.19,-98.87,19.36,-98.904,19.356,-98.914,19.353,-98.922,19.343,-98.94,19.337,-98.948,19.329,-98.967,19.32,-98.975,19.311,-98.993,19.298,-99.02,19.3,-99.038,19.3,-99.049,19.304,-99.067,19.31,-99.069,19.323,-99.061,19.33,-99.069,19.332,-99.075,19.323,-99.084,19.321,-99.092,19.321,-99.107,19.323,-99.115,19.329,-99.119,19.34,-99.109,19.352,-99.096,19.359,-99.083,19.353,-99.072,19.342,-99.054,19.336,-99.038,19.334,-99.02,19.342,-99.018,19.352,-99.024,19.353,-99.037,19.366,-99.038,19.375,-99.036,19.383,-99.025,19.384,-99.01,19.374,-99.017,19.369,-99.01,19.364,-98.993,19.367,-98.989,19.36,-98.977,19.359,-98.97,19.364,-98.96,19.366,-98.971,19.368,-98.976,19.367,-98.973,19.375,-98.972,19.391,-98.977,19.406,-98.973,19.432,-98.962,19.454,-98.95,19.48,-98.947,19.484,-98.94,19.478,-98.919,19.475,-98.902,19.464,-98.87,19.46,-98.87,19.535,-98.904,19.53,-98.914,19.525,-98.922,19.521,-98.934,19.513,-98.939,19.519,-98.951,19.513,-98.952,19.529,-98.959,19.542,-98.977,19.557,-98.979,19.572];
const dLagoon=[-99.071,19.303,-99.065,19.304,-99.049,19.298,-99.049,19.293,-99.054,19.293,-99.065,19.297];
const dTriangle=[-99.082,19.314,-99.074,19.316,-99.074,19.307];
const dBayBump=[-99.099,19.367,-99.094,19.373,-99.086,19.368,-99.078,19.361,-99.088,19.362,-99.096,19.363];
const dNorthHole=[-99.047,19.558,-99.042,19.56,-99.044,19.554];
const dIsle1=[-99.041,19.253,-99.037,19.257,-99.033,19.255,-99.034,19.252,-99.038,19.251];
const dIsle2=[-99.03,19.25,-99.026,19.252,-99.022,19.249,-99.025,19.247];
const dIsle3=[-99.019,19.247,-99.017,19.248,-99.014,19.246,-99.017,19.244];
const d3Main=[-99.062,19.511,-99.043,19.503,-99.025,19.497,-99.009,19.483,-99,19.463,-98.989,19.441,-98.985,19.419,-98.986,19.404,-98.988,19.388,-98.997,19.382,-99.006,19.383,-99.025,19.393,-99.037,19.395,-99.045,19.386,-99.05,19.374,-99.046,19.366,-99.037,19.361,-99.033,19.351,-99.038,19.342,-99.049,19.34,-99.057,19.344,-99.059,19.355,-99.054,19.362,-99.062,19.368,-99.067,19.374,-99.08,19.375,-99.088,19.375,-99.1,19.373,-99.109,19.366,-99.131,19.364,-99.141,19.375,-99.144,19.38,-99.146,19.393,-99.158,19.408,-99.165,19.421,-99.16,19.432,-99.152,19.45,-99.144,19.465,-99.133,19.475,-99.117,19.476,-99.102,19.478,-99.094,19.48,-99.088,19.493,-99.078,19.504];
const d3SW=[-99.107,19.311,-99.096,19.311,-99.087,19.303,-99.078,19.285,-99.076,19.276,-99.083,19.263,-99.096,19.255,-99.105,19.259,-99.117,19.274,-99.129,19.29,-99.117,19.303];
const d3SE=[-98.958,19.316,-98.967,19.307,-98.977,19.299,-98.993,19.295,-99.006,19.291,-99.024,19.28,-99.017,19.27,-99.001,19.258,-98.983,19.248,-98.97,19.244,-98.959,19.25,-98.943,19.259,-98.927,19.263,-98.92,19.279,-98.923,19.295,-98.935,19.305];
const d4Main=[-99.069,19.503,-99.08,19.498,-99.088,19.487,-99.094,19.474,-99.099,19.469,-99.115,19.467,-99.128,19.464,-99.129,19.456,-99.125,19.443,-99.124,19.43,-99.131,19.428,-99.146,19.431,-99.154,19.427,-99.156,19.419,-99.149,19.406,-99.144,19.393,-99.138,19.384,-99.133,19.376,-99.115,19.372,-99.099,19.379,-99.086,19.384,-99.072,19.383,-99.054,19.374,-99.046,19.382,-99.038,19.397,-99.02,19.395,-99.004,19.386,-98.992,19.391,-98.989,19.406,-98.997,19.432,-99.006,19.452,-99.016,19.478,-99.028,19.489,-99.049,19.493,-99.059,19.502];
const d4Lobe=[-99.053,19.359,-99.047,19.361,-99.037,19.353,-99.036,19.347,-99.046,19.343,-99.053,19.346,-99.055,19.353];
const d4SW=[-99.105,19.306,-99.098,19.305,-99.09,19.296,-99.082,19.281,-99.082,19.27,-99.088,19.26,-99.096,19.259,-99.104,19.264,-99.113,19.279,-99.119,19.292,-99.115,19.302];
const d4SE=[-98.959,19.312,-98.969,19.302,-98.98,19.295,-98.996,19.289,-99.01,19.28,-99.01,19.272,-98.996,19.259,-98.983,19.251,-98.97,19.252,-98.96,19.262,-98.943,19.27,-98.934,19.283,-98.937,19.294,-98.951,19.306];
const d5Main=[-99.072,19.497,-99.061,19.497,-99.054,19.485,-99.03,19.478,-99.024,19.467,-99.017,19.443,-99.004,19.423,-98.993,19.408,-98.995,19.397,-99.004,19.394,-99.02,19.404,-99.038,19.404,-99.051,19.395,-99.057,19.382,-99.061,19.376,-99.078,19.384,-99.099,19.384,-99.112,19.38,-99.133,19.377,-99.137,19.386,-99.138,19.399,-99.144,19.406,-99.15,19.417,-99.144,19.421,-99.133,19.421,-99.123,19.419,-99.115,19.434,-99.111,19.443,-99.117,19.448,-99.119,19.453,-99.113,19.451,-99.104,19.45,-99.096,19.467,-99.088,19.471,-99.086,19.48];
const d5Lobe=[-99.05,19.355,-99.045,19.356,-99.039,19.351,-99.041,19.346,-99.046,19.345,-99.05,19.349];
const d5SW=[-99.105,19.302,-99.099,19.302,-99.091,19.291,-99.086,19.281,-99.086,19.268,-99.091,19.262,-99.098,19.261,-99.104,19.268,-99.111,19.279,-99.115,19.291,-99.112,19.298];
const d5SE=[-98.96,19.305,-98.97,19.295,-98.983,19.288,-98.997,19.286,-99.008,19.28,-99.008,19.273,-98.995,19.26,-98.983,19.255,-98.971,19.257,-98.962,19.265,-98.945,19.279,-98.942,19.291,-98.95,19.299];
const d6Main=[-99.084,19.485,-99.075,19.495,-99.065,19.496,-99.058,19.486,-99.055,19.479,-99.034,19.477,-99.025,19.463,-99.022,19.445,-99.013,19.423,-98.993,19.41,-98.997,19.398,-99.006,19.396,-99.025,19.406,-99.041,19.407,-99.054,19.399,-99.062,19.386,-99.078,19.386,-99.099,19.386,-99.112,19.382,-99.12,19.38,-99.119,19.399,-99.117,19.406,-99.111,19.423,-99.103,19.437,-99.086,19.43,-99.072,19.437,-99.057,19.45,-99.054,19.461,-99.065,19.469,-99.078,19.472,-99.084,19.476];
const d6Spot=[-99.144,19.412,-99.14,19.414,-99.135,19.41,-99.14,19.405,-99.144,19.408];
const d6Diamond=[-99.046,19.353,-99.043,19.35,-99.046,19.348,-99.049,19.35];
const d6SW=[-99.104,19.3,-99.1,19.298,-99.094,19.287,-99.088,19.279,-99.088,19.268,-99.094,19.263,-99.099,19.263,-99.105,19.271,-99.109,19.283,-99.109,19.294];
const d6SE=[-98.962,19.296,-98.978,19.287,-98.993,19.284,-99.007,19.279,-99.005,19.273,-98.993,19.261,-98.982,19.258,-98.971,19.261,-98.959,19.27,-98.95,19.284,-98.95,19.293];
const dHole4=[-99.102,19.45,-99.094,19.467,-99.072,19.464,-99.065,19.458,-99.061,19.443,-99.067,19.429,-99.08,19.426,-99.094,19.43];
const dHole3=[-99.1,19.446,-99.094,19.458,-99.082,19.461,-99.069,19.452,-99.065,19.443,-99.07,19.432,-99.082,19.428,-99.093,19.432];
const dHole2=[-99.095,19.446,-99.091,19.454,-99.082,19.456,-99.071,19.45,-99.07,19.442,-99.074,19.435,-99.082,19.433,-99.09,19.437];
const dHole1=[-99.0775,19.444,-99.0803,19.4492,-99.0858,19.4492,-99.0885,19.444,-99.0858,19.4388,-99.0803,19.4388];
const d7Main=[-99.038,19.468,-99.032,19.465,-99.029,19.447,-99.018,19.423,-98.999,19.412,-99,19.4,-99.008,19.404,-99.025,19.41,-99.043,19.415,-99.057,19.41,-99.072,19.404,-99.083,19.397,-99.096,19.396,-99.107,19.384,-99.112,19.386,-99.112,19.397,-99.116,19.41,-99.109,19.426,-99.102,19.434,-99.086,19.428,-99.075,19.421,-99.072,19.432,-99.065,19.441,-99.054,19.45,-99.046,19.458];
const d7Lobe=[-99.08,19.483,-99.075,19.491,-99.065,19.492,-99.059,19.485,-99.063,19.476,-99.075,19.474];
const d7SW=[-99.104,19.294,-99.099,19.291,-99.094,19.283,-99.091,19.276,-99.091,19.268,-99.096,19.265,-99.102,19.27,-99.107,19.281,-99.108,19.288];
const d7SE=[-98.961,19.291,-98.975,19.285,-98.993,19.282,-99.004,19.278,-99.003,19.273,-98.992,19.263,-98.982,19.26,-98.971,19.264,-98.96,19.276,-98.954,19.285,-98.955,19.29];
const d8Lobe=[-99.076,19.484,-99.07,19.489,-99.065,19.488,-99.063,19.481,-99.07,19.476,-99.075,19.478];
const d8West=[-99.099,19.428,-99.092,19.43,-99.083,19.421,-99.079,19.415,-99.082,19.406,-99.093,19.399,-99.103,19.402,-99.109,19.411,-99.105,19.419];
const d8East=[-99.047,19.445,-99.041,19.443,-99.033,19.426,-99.049,19.417,-99.062,19.412,-99.067,19.419,-99.063,19.43,-99.054,19.439];
const d8SW=[-99.099,19.286,-99.096,19.282,-99.092,19.273,-99.092,19.268,-99.098,19.266,-99.103,19.272,-99.103,19.279];
const d8SE=[-98.963,19.285,-98.977,19.282,-98.999,19.279,-98.998,19.273,-98.989,19.265,-98.982,19.262,-98.971,19.268,-98.963,19.277,-98.961,19.284];
const d9West=[-99.096,19.424,-99.091,19.426,-99.084,19.419,-99.083,19.41,-99.092,19.402,-99.101,19.404,-99.104,19.411];
const d9East=[-99.05,19.44,-99.042,19.434,-99.04,19.427,-99.054,19.418,-99.065,19.419,-99.061,19.432];
const d9SW=[-99.099,19.28,-99.095,19.276,-99.094,19.27,-99.098,19.268,-99.102,19.273];
const d9SE=[-98.969,19.28,-98.982,19.278,-98.995,19.275,-98.993,19.272,-98.985,19.265,-98.978,19.265,-98.973,19.27];
const d10West=[-99.096,19.419,-99.091,19.421,-99.086,19.417,-99.086,19.41,-99.094,19.405,-99.099,19.407];
const d10East=[-99.054,19.435,-99.047,19.432,-99.047,19.426,-99.055,19.421,-99.061,19.423,-99.057,19.432];
const d10SE=[-98.976,19.275,-98.984,19.274,-98.988,19.272,-98.983,19.265,-98.977,19.267,-98.975,19.272];
const dSpecks=[];
const dLabels=[[-99.106,19.488,'2'],[-99.1,19.473,'4'],[-99.093,19.409,'10'],[-99.1,19.398,'8'],[-98.951,19.503,'1']];

// ---- ordered layers: [band, ring]
const layersA=[[3,a3Main],[3,a3East],[2,aLagoon],[1,aBump],[1,aIslandPale],[2,aSEPale],[3,aIslandY1],[3,aIslandY2],[4,a4Main],[4,a4SE],[4,a4Isle],[3,aYellowIsle],[3,aYellowDiamond],[5,a5Sliver],[5,a5Patch],[5,a5Diamond],[5,a5Main],[5,a5SW],[5,a5SE],[6,a6Main],[6,a6SW],[6,a6SE],[7,a7Main],[7,a7SW],[7,a7SE],[8,a8Main],[8,a8Lobe],[8,a8SW],[8,a8SE],[9,a9Main],[9,a9Lobe],[9,a9SW],[9,a9SE],[10,a10Main],[10,a10Lobe],[10,a10SW],[10,a10SE],[7,aHole7],[6,aHole6],[5,aHole5],[4,aHole4],[3,aHole3],[2,aHole2],[1,aHole1]];
const layersB=[[1,b1Main],[0,bLagoon],[0,bWhiteEast],[1,bIsle1],[1,bIsle2],[1,bIsle3],[1,bIsle4],[2,b2Main],[2,b2SW],[2,b2SE],[2,b2Lobe],[3,b3Main],[3,b3SW],[3,b3SE],[3,b3Lobe],[4,b4Main],[4,b4Spot1],[4,b4Spot2],[4,b4SW],[4,b4SE],[4,b4Lobe],[2,bHoleY],[1,bHoleC],[0,bHoleW],[5,b5Main],[5,b5Small],[5,b5SW],[5,b5SE],[6,b6Main],[6,b6SW],[6,b6SE],[7,b7SW],[7,b7SE],[8,b8SW],[8,b8SE],[9,b9SW],[9,b9SE]];
const layersC=[[1,c1Main],[0,cLagoon],[0,cWhiteSmall],[1,cIsle1],[1,cIsle2],[1,cIsle3],[2,c2Main],[2,c2Lobe],[2,c2SW],[2,c2SE],[3,c3Main],[3,c3Lobe],[3,c3SW],[3,c3SE],[4,c4Main],[4,c4Lobe],[4,c4SW],[4,c4SE],[5,c5Spot],[5,c5East],[5,c5Center],[5,c5Small],[5,c5Lobe],[5,c5SW],[5,c5SE],[3,cHoleY],[2,cHoleP],[1,cHoleC],[0,cHoleW],[6,c6Main],[6,c6Spot],[6,c6Small],[6,c6SW],[6,c6SE],[7,c7Main],[7,c7SW],[7,c7SE],[8,c8Main],[8,c8SW],[8,c8SE],[9,c9SW],[9,c9SE],[10,c10SW]];
const layersD=[[2,d2Main],[1,dLagoon],[1,dTriangle],[1,dBayBump],[1,dNorthHole],[1,dIsle1],[1,dIsle2],[1,dIsle3],[3,d3Main],[3,d3SW],[3,d3SE],[4,d4Main],[4,d4Lobe],[4,d4SW],[4,d4SE],[5,d5Main],[5,d5Lobe],[5,d5SW],[5,d5SE],[6,d6Main],[6,d6Spot],[6,d6Diamond],[6,d6SW],[6,d6SE],[4,dHole4],[3,dHole3],[2,dHole2],[1,dHole1],[7,d7Main],[7,d7Lobe],[7,d7SW],[7,d7SE],[8,d8Lobe],[8,d8West],[8,d8East],[8,d8SW],[8,d8SE],[9,d9West],[9,d9East],[9,d9SW],[9,d9SE],[10,d10West],[10,d10East],[10,d10SE]];

const panels=[
 {box:[49,8,499,542],leg:[593,98,24,362],legTicks:legendTicks11,pal:bandColors,bg:'#FFFF99',layers:layersA,specks:aSpecks,labels:aLabels,cap:[317,574],xm:18},
 {box:[702,8,505,550],leg:[1253,99,24,367],legTicks:legendTicks10,pal:bandColorsB,bg:'#FFFFFF',layers:layersB,specks:bSpecks,labels:bLabels,cap:[970,580],xm:10},
 {box:[49,618,499,542],leg:[593,708,24,362],legTicks:legendTicks11,pal:bandColors,bg:'#FFFFFF',layers:layersC,specks:cSpecks,labels:cLabels,cap:[317,1183],xm:18},
 {box:[702,618,499,542],leg:[1246,708,24,362],legTicks:legendTicks11,pal:bandColors,bg:'#FFFFCC',layers:layersD,specks:dSpecks,labels:dLabels,cap:[970,1183],xm:18}
];

const LON=[-99.23,-98.904], LAT=[19.2105,19.567];
const axisText={fontFamily:'Liberation Sans',fontSize:11.5,color:'#333'};
const axisStroke={color:'#3a3a3a',width:1.4};
function pts(api,ring){const o=[];for(let i=0;i<ring.length;i+=2)o.push(api.coord([ring[i],ring[i+1]]));return o;}

const grid=[],xAxis=[],yAxis=[],series=[],title=[];
panels.forEach((p,k)=>{
  const g=grid.length;
  grid.push({left:p.box[0],top:p.box[1],width:p.box[2],height:p.box[3],show:true,backgroundColor:p.bg,borderWidth:0,containLabel:false});
  const xi=xAxis.length, yi=yAxis.length;
  xAxis.push({type:'value',gridIndex:g,position:'bottom',min:LON[0],max:LON[1],splitLine:{show:false},axisLine:{onZero:false,lineStyle:axisStroke},
    axisTick:{show:true,length:6,lineStyle:axisStroke,customValues:lonTicks},axisLabel:{...axisText,margin:p.xm,customValues:lonTicks,formatter:v=>String(v)}});
  xAxis.push({type:'value',gridIndex:g,position:'top',min:LON[0],max:LON[1],splitLine:{show:false},axisLine:{onZero:false,lineStyle:axisStroke},
    axisTick:{show:true,length:6,lineStyle:axisStroke,customValues:lonTicks},axisLabel:{show:false}});
  yAxis.push({type:'value',gridIndex:g,position:'left',min:LAT[0],max:LAT[1],splitLine:{show:false},axisLine:{onZero:false,lineStyle:axisStroke},
    axisTick:{show:true,length:6,lineStyle:axisStroke,customValues:latTicks},axisLabel:{...axisText,margin:8,customValues:latTicks,formatter:v=>String(v)}});
  yAxis.push({type:'value',gridIndex:g,position:'right',min:LAT[0],max:LAT[1],splitLine:{show:false},axisLine:{onZero:false,lineStyle:axisStroke},
    axisTick:{show:true,length:6,lineStyle:axisStroke,customValues:latTicks},axisLabel:{show:false}});

  // filled contour bands, painted from low to high
  series.push({type:'custom',xAxisIndex:xi,yAxisIndex:yi,clip:true,silent:true,animation:false,z:2,
    data:p.layers.map(l=>[l[1][0],l[1][1]]),
    renderItem:(params,api)=>{const l=p.layers[params.dataIndex];
      return {type:'polygon',shape:{points:pts(api,l[1]),smooth:0.35},style:{fill:p.pal[l[0]],stroke:'#000',lineWidth:0.9}};}});
  // tiny closed contours
  series.push({type:'scatter',xAxisIndex:xi,yAxisIndex:yi,silent:true,animation:false,z:3,symbol:'circle',symbolSize:3.5,
    itemStyle:{color:p.pal[1],borderColor:'#000',borderWidth:0.9},data:p.specks});
  // geography outlines
  const outlines=[[tealBoundary,'#3D6B6E',4,false],[greenZone,'#0CEB2A',3.4,true],[greenSouth,'#0CEB2A',3.4,true],[blueDistrict,'#0000F0',3.4,true],[blueSouth,'#0000F0',3.4,true]];
  series.push({type:'custom',xAxisIndex:xi,yAxisIndex:yi,clip:true,silent:true,animation:false,z:4,
    data:outlines.map(o=>[o[0][0],o[0][1]]),
    renderItem:(params,api)=>{const o=outlines[params.dataIndex];
      const s={points:pts(api,o[0])};
      if(o[0]===greenZone||o[0]===greenSouth) s.smooth=0.4;
      if(o[0]===tealBoundary) s.smooth=0.25;
      return {type:o[3]?'polygon':'polyline',shape:s,style:{fill:'none',stroke:o[1],lineWidth:o[2],lineJoin:'round'}};}});
  // contour labels
  series.push({type:'custom',xAxisIndex:xi,yAxisIndex:yi,silent:true,animation:false,z:5,
    data:p.labels.map(l=>[l[0],l[1]]),
    renderItem:(params,api)=>{const l=p.labels[params.dataIndex];const c=api.coord([l[0],l[1]]);
      return {type:'text',x:c[0],y:c[1],rotation:0.14,style:{text:l[2],fill:'#000',font:'bold 13px "Liberation Sans"',align:'center',verticalAlign:'middle'}};}});

  // legend colour bar
  const lg=grid.length; const top=p.legTicks.length;
  grid.push({left:p.leg[0],top:p.leg[1],width:p.leg[2],height:p.leg[3],show:false,containLabel:false});
  const lx=xAxis.length, ly=yAxis.length;
  xAxis.push({type:'value',gridIndex:lg,min:0,max:1,show:false});
  yAxis.push({type:'value',gridIndex:lg,position:'right',min:0,max:top,splitLine:{show:false},axisLine:{show:false},axisTick:{show:false},
    axisLabel:{...axisText,fontSize:12,margin:4,customValues:p.legTicks,formatter:v=>String(v)}});
  series.push({type:'custom',xAxisIndex:lx,yAxisIndex:ly,silent:true,animation:false,z:2,
    data:p.pal.map((c,i)=>[0,i]),
    renderItem:(params,api)=>{const i=params.dataIndex;const a=api.coord([0,i]),b=api.coord([1,i+1]);
      return {type:'rect',shape:{x:a[0],y:b[1],width:b[0]-a[0],height:a[1]-b[1]},style:{fill:p.pal[i],stroke:'#000',lineWidth:1}};}});

  title.push({text:captions[k],left:p.cap[0],top:p.cap[1],textAlign:'center',textStyle:{fontFamily:'Liberation Serif',fontWeight:'normal',fontSize:26.5,color:'#000'}});
});

const chart=echarts.init(document.getElementById('c'),null,{renderer:'canvas',width:1294,height:1214});
chart.setOption({animation:false,backgroundColor:'#fff',title,grid,xAxis,yAxis,series});
</script></body></html>
